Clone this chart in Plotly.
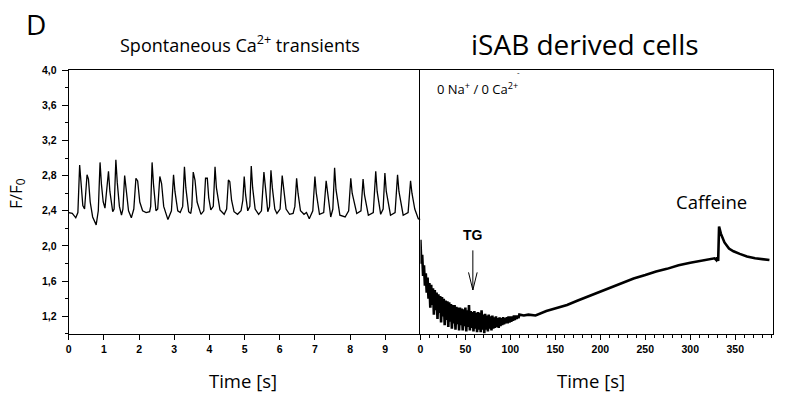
import plotly.graph_objects as go

# ---------------- data ----------------
# Left panel: spontaneous Ca2+ transients (time in s, F/F0)
t_left = [0.00, 0.10, 0.20, 0.26, 0.31, 0.35, 0.40, 0.45, 0.52, 0.56, 0.61, 0.68, 0.78, 0.84, 0.89, 0.93,
          0.98, 1.03, 1.13, 1.17, 1.25, 1.29, 1.34, 1.38, 1.44, 1.50, 1.54, 1.59, 1.63, 1.70, 1.78, 1.85,
          1.91, 1.96, 2.02, 2.10, 2.20, 2.30, 2.33, 2.37, 2.41, 2.48, 2.53, 2.59, 2.64, 2.70, 2.82, 2.92,
          2.98, 3.02, 3.10, 3.17, 3.24, 3.29, 3.33, 3.41, 3.47, 3.50, 3.54, 3.59, 3.65, 3.76, 3.84, 3.89,
          3.94, 3.98, 4.04, 4.11, 4.16, 4.20, 4.30, 4.42, 4.49, 4.54, 4.58, 4.63, 4.70, 4.80, 4.90, 4.95,
          4.99, 5.03, 5.09, 5.15, 5.19, 5.23, 5.30, 5.40, 5.48, 5.55, 5.59, 5.66, 5.71, 5.75, 5.79, 5.86,
          5.92, 6.01, 6.07, 6.11, 6.18, 6.28, 6.38, 6.43, 6.48, 6.52, 6.59, 6.69, 6.76, 6.84, 6.94, 7.00,
          7.04, 7.13, 7.25, 7.32, 7.36, 7.45, 7.51, 7.56, 7.60, 7.71, 7.86, 7.96, 8.02, 8.06, 8.19, 8.31,
          8.37, 8.41, 8.52, 8.66, 8.73, 8.77, 8.87, 8.94, 8.99, 9.03, 9.15, 9.28, 9.35, 9.39, 9.51, 9.65,
          9.72, 9.76, 9.84, 9.94, 10.0]
v_left = [2.38, 2.37, 2.32, 2.38, 2.92, 2.66, 2.46, 2.42, 2.81, 2.76, 2.50, 2.33, 2.24, 2.40, 2.95, 2.70,
          2.50, 2.43, 2.85, 2.62, 2.39, 2.42, 2.98, 2.72, 2.45, 2.35, 2.42, 2.80, 2.62, 2.40, 2.32, 2.42,
          2.77, 2.74, 2.50, 2.40, 2.38, 2.39, 2.45, 2.95, 2.70, 2.40, 2.42, 2.79, 2.71, 2.45, 2.30, 2.40,
          2.81, 2.62, 2.40, 2.38, 2.45, 2.90, 2.66, 2.39, 2.37, 2.45, 2.84, 2.75, 2.50, 2.36, 2.40, 2.77,
          2.77, 2.55, 2.41, 2.45, 2.90, 2.66, 2.41, 2.36, 2.42, 2.75, 2.73, 2.52, 2.39, 2.36, 2.40, 2.52,
          2.79, 2.58, 2.40, 2.45, 2.91, 2.66, 2.42, 2.36, 2.40, 2.84, 2.68, 2.39, 2.45, 2.86, 2.66, 2.42,
          2.37, 2.42, 2.80, 2.64, 2.42, 2.36, 2.37, 2.45, 2.77, 2.60, 2.40, 2.36, 2.38, 2.31, 2.40, 2.79,
          2.60, 2.36, 2.38, 2.74, 2.62, 2.33, 2.42, 2.89, 2.64, 2.35, 2.33, 2.40, 2.77, 2.60, 2.37, 2.40,
          2.76, 2.58, 2.35, 2.38, 2.85, 2.62, 2.36, 2.42, 2.83, 2.62, 2.35, 2.38, 2.81, 2.62, 2.35, 2.38,
          2.74, 2.60, 2.42, 2.31, 2.30]

# Right panel: 0 Na+ / 0 Ca2+, TG, caffeine (time in s, F/F0)
t_right = list(range(0, 111)) + [115, 120, 128, 140, 150, 163, 175, 187, 200, 212, 225, 237, 250, 262,
                                 274, 287, 300, 311, 320, 327, 329, 330, 331, 332, 334, 338, 343, 348,
                                 355, 363, 372, 380, 388]
v_right = [2.07, 1.80, 1.90, 1.66, 1.78, 1.55, 1.69, 1.47, 1.64, 1.40,
           1.58, 1.30, 1.56, 1.33, 1.52, 1.22, 1.50, 1.27, 1.47, 1.17,
           1.45, 1.24, 1.43, 1.13, 1.42, 1.20, 1.40, 1.10, 1.38, 1.16,
           1.37, 1.08, 1.36, 1.14, 1.34, 1.06, 1.33, 1.12, 1.33, 1.05,
           1.31, 1.11, 1.30, 1.04, 1.30, 1.10, 1.29, 1.04, 1.28, 1.09,
           1.30, 1.03, 1.27, 1.08, 1.33, 1.04, 1.26, 1.07, 1.25, 1.03,
           1.26, 1.06, 1.24, 1.02, 1.25, 1.05, 1.24, 1.02, 1.27, 1.05,
           1.22, 1.01, 1.23, 1.05, 1.21, 1.03, 1.22, 1.06, 1.20, 1.04,
           1.21, 1.06, 1.19, 1.07, 1.20, 1.08, 1.18, 1.07, 1.19, 1.09,
           1.18, 1.10, 1.19, 1.11, 1.18, 1.12, 1.19, 1.12, 1.20, 1.13,
           1.20, 1.14, 1.20, 1.15, 1.21, 1.16, 1.21, 1.17, 1.21, 1.18,
           1.22,
           1.21, 1.22, 1.21, 1.26, 1.29, 1.33, 1.38, 1.43, 1.48, 1.53, 1.58, 1.63, 1.67, 1.71,
           1.74, 1.78, 1.81, 1.83, 1.85, 1.86, 1.84, 1.87, 1.83, 2.22, 2.14, 2.04, 1.97, 1.94,
           1.91, 1.88, 1.86, 1.85, 1.84]

left_xticks = [0, 1, 2, 3, 4, 5, 6, 7, 8, 9]
right_xticks = [0, 50, 100, 150, 200, 250, 300, 350]
y_ticks = [1.2, 1.6, 2.0, 2.4, 2.8, 3.2, 3.6, 4.0]
y_ticklabels = ["1,2", "1,6", "2,0", "2,4", "2,8", "3,2", "3,6", "4,0"]

# ---------------- figure ----------------
W, H = 786, 398


def px(x):
    return x / W


def py(y):
    return 1 - y / H


fig = go.Figure()
fig.add_trace(go.Scatter(x=t_left, y=v_left, mode="lines", xaxis="x", yaxis="y",
                         line=dict(color="black", width=1.3), showlegend=False))
fig.add_trace(go.Scatter(x=t_right, y=v_right, mode="lines", xaxis="x2", yaxis="y2",
                         line=dict(color="black", width=2.6), showlegend=False))

tickfont = dict(family="Liberation Sans, Arial", size=10.5, color="black", weight="bold")
x_left_dom = [px(66), px(419)]
x_right_dom = [px(419), px(773)]
y_dom = [py(333), py(65)]

fig.update_layout(
    width=W, height=H,
    margin=dict(l=0, r=0, t=0, b=0),
    paper_bgcolor="white", plot_bgcolor="white",
    xaxis=dict(domain=x_left_dom, range=[0, 10], anchor="y",
               tickmode="array", tickvals=left_xticks, ticktext=[str(v) for v in left_xticks],
               ticks="outside", ticklen=5, tickwidth=1.2, tickcolor="black",
               showline=True, linecolor="black", linewidth=1.3, mirror=True,
               showgrid=False, zeroline=False, tickfont=tickfont),
    xaxis2=dict(domain=x_right_dom, range=[0, 392], anchor="y2",
                tickmode="array", tickvals=right_xticks, ticktext=[str(v) for v in right_xticks],
                ticks="outside", ticklen=5, tickwidth=1.2, tickcolor="black",
                minor=dict(ticks="outside", ticklen=2.5, tickwidth=1, tickcolor="black",
                           tickmode="linear", tick0=0, dtick=10),
                showline=True, linecolor="black", linewidth=1.3, mirror=True,
                showgrid=False, zeroline=False, tickfont=tickfont),
    yaxis=dict(domain=y_dom, range=[1.0, 4.0], anchor="x",
               tickmode="array", tickvals=y_ticks, ticktext=y_ticklabels,
               ticks="outside", ticklen=6, tickwidth=1.2, tickcolor="black",
               ticklabelstandoff=3,
               minor=dict(ticks="outside", ticklen=3, tickwidth=1, tickcolor="black",
                          tickmode="linear", tick0=1.0, dtick=0.2),
               showline=True, linecolor="black", linewidth=1.3, mirror=False,
               showgrid=False, zeroline=False, tickfont=tickfont),
    yaxis2=dict(domain=y_dom, range=[1.0, 4.0], anchor="x2",
                showticklabels=False, ticks="",
                showline=True, linecolor="black", linewidth=1.3, mirror=True,
                showgrid=False, zeroline=False),
)

txtfont = "Open Sans, Lato, sans-serif"
ann = [
    dict(text="D", x=px(33), y=py(18), font=dict(family=txtfont, size=28)),
    dict(text="Spontaneous Ca<sup>2+</sup> transients", x=px(238), y=py(39), font=dict(family=txtfont, size=18)),
    dict(text="iSAB derived cells", x=px(584), y=py(39), font=dict(family=txtfont, size=28)),
    dict(text="0 Na<sup>+</sup> / 0 Ca<sup>2+</sup>", x=px(476), y=py(84), font=dict(family=txtfont, size=13)),
    dict(text="-", x=px(517), y=py(67), font=dict(family=txtfont, size=8)),
    dict(text="TG", x=px(472), y=py(232), font=dict(family="Liberation Sans, Arial", size=14, weight="bold")),
    dict(text="Caffeine", x=px(711), y=py(198), font=dict(family=txtfont, size=18.5)),
    dict(text="Time [s]", x=px(241), y=py(380), font=dict(family=txtfont, size=18.5)),
    dict(text="Time [s]", x=px(590), y=py(380), font=dict(family=txtfont, size=18.5)),
    dict(text="F/F<sub>0</sub>", x=px(13), y=py(190), textangle=-90, font=dict(family=txtfont, size=17)),
]
for a in ann:
    a.update(xref="paper", yref="paper", showarrow=False, xanchor="center", yanchor="middle")
    a["font"].setdefault("color", "black")
    fig.add_annotation(**a)

# TG arrow (open V head), placed in the right-panel data coordinates
fig.add_shape(type="line", xref="x2", yref="y2", x0=58.3, x1=58.3, y0=1.95, y1=1.50,
              line=dict(color="black", width=1))
fig.add_shape(type="path", xref="x2", yref="y2", path="M 53.5 1.70 L 58.3 1.50 L 63.1 1.70",
              line=dict(color="black", width=1))

# remove the default page margin so the 786x398 figure fills the window exactly
fig.write_html("out.html", config={"displayModeBar": False},
               post_script="document.body.style.margin='0px';")
